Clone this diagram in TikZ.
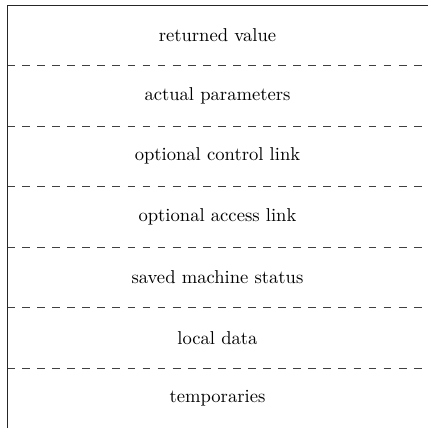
\documentclass[tikz,border=0pt]{standalone}
\usetikzlibrary{positioning}

\begin{document}
\begin{tikzpicture}[
    x=0.5376pt, y=0.5376pt,
    slot/.style={rectangle, minimum width=226.3pt, minimum height=32.52pt, inner sep=0pt, outer sep=0pt, anchor=north west, align=center},
    divider/.style={draw=black!75, dash pattern=on 4.2pt off 3.9pt},
    rim/.style={draw=black!85}
]
\useasboundingbox (0,0) rectangle (428,-427);

% Frame slots
\node[slot] (ret) at (7,-5) {returned value};
\node[slot, below=0pt of ret] (par) {actual parameters};
\node[slot, below=0pt of par] (ctl) {optional control link};
\node[slot, below=0pt of ctl] (acc) {optional access link};
\node[slot, below=0pt of acc] (sav) {saved machine status};
\node[slot, below=0pt of sav] (loc) {local data};
\node[slot, below=0pt of loc] (tmp) {temporaries};

% Dividers
\foreach \s in {ret,par,ctl,acc,sav,loc}
    \draw[divider] (\s.south west) -- (\s.south east);

% Outline
\draw[rim] (ret.north east) -- (ret.north west) -- (tmp.south west);

\end{tikzpicture}
\end{document}
